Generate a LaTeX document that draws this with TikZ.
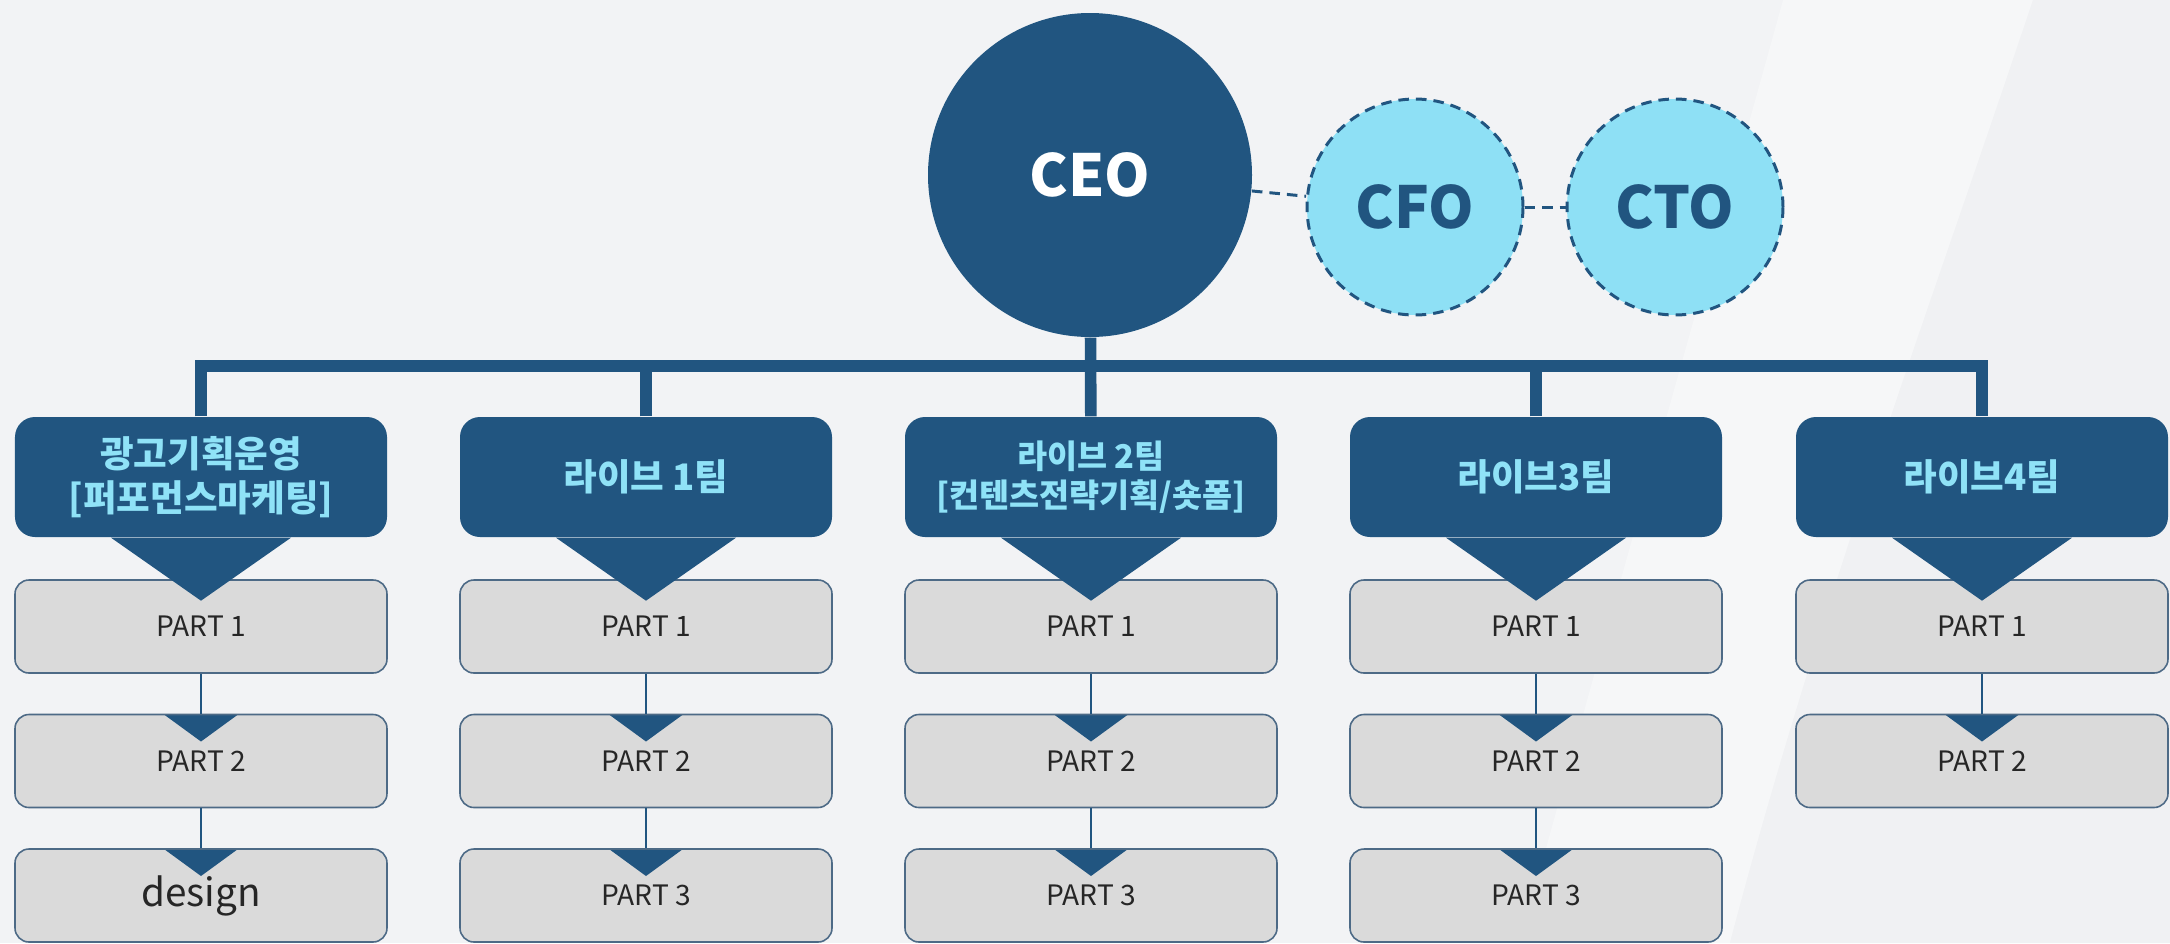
\documentclass[tikz,border=0pt]{standalone}
\usepackage{fontspec}
\setmainfont{Noto Sans CJK KR}
\usepackage{tikz}
\usetikzlibrary{
    calc,
    positioning
}
\definecolor{navy}{HTML}{215580}
\definecolor{sky}{HTML}{8EE0F5}
\definecolor{skytext}{HTML}{8FE2F7}
\definecolor{partgray}{HTML}{DADADA}
\definecolor{partline}{HTML}{4D6A86}
\definecolor{bgbase}{HTML}{F2F3F5}
\definecolor{bglight}{HTML}{F6F7F8}
\definecolor{bgdark}{HTML}{F0F1F3}
\tikzset{
    chief/.style={circle, fill=navy, text=white, minimum size=3.24cm, inner sep=0pt,
        font=\fontsize{16.5}{18}\selectfont\bfseries},
    officer/.style={circle, fill=sky, draw=navy, line width=0.85pt, dash pattern=on 3pt off 2pt,
        minimum size=2.16cm, inner sep=0pt, text=navy, font=\fontsize{16.5}{18}\selectfont\bfseries},
    team/.style={rectangle, rounded corners=2mm, fill=navy, text=skytext, minimum width=3.72cm,
        minimum height=1.2cm, align=center, font=\fontsize{10.4}{12.4}\selectfont\bfseries},
    part/.style={rectangle, rounded corners=1.4mm, fill=partgray, draw=partline, line width=0.45pt,
        minimum width=3.72cm, minimum height=0.93cm, text=black!85, font=\fontsize{8}{10}\selectfont},
    subpart/.style={part, path picture={%
        \fill[navy, sharp corners] ([xshift=-0.37cm]path picture bounding box.north)
            -- ([yshift=-0.27cm]path picture bounding box.north)
            -- ([xshift=0.37cm]path picture bounding box.north) -- cycle;}},
    bus/.style={draw=navy, line width=3.3pt},
    link/.style={draw=navy, line width=0.6pt},
    aide/.style={draw=navy, line width=0.85pt, dash pattern=on 3pt off 2pt}
}

\begin{document}
\begin{tikzpicture}
    \useasboundingbox (0,0) rectangle (21.7,-9.43);
    % background
    \fill[bgbase] (0,0) rectangle (21.7,-9.43);
    \fill[bglight] (17.83,0) .. controls (17.0,-3) and (16.0,-6.5) .. (15.2,-9.43)
        -- (17.3,-9.43) .. controls (18.2,-6) and (19.4,-2.8) .. (20.33,0) -- cycle;
    \fill[bgdark] (20.33,0) .. controls (19.4,-2.8) and (18.2,-6) .. (17.3,-9.43)
        -- (21.7,-9.43) -- (21.7,0) -- cycle;

    \draw (10.9,-1.75) node[chief](ceo){CEO};
    \draw (14.15,-2.07) node[officer](cfo){CFO};
    \draw (16.75,-2.07) node[officer](cto){CTO};

    \draw (2.01,-4.77) node[team](t1){광고기획운영\\{[}퍼포먼스마케팅]};
    \draw (6.46,-4.77) node[team](t2){라이브 1팀};
    \draw (10.91,-4.77) node[team, font=\fontsize{9.3}{11}\selectfont\bfseries](t3){라이브 2팀\\{[}컨텐츠전략기획/숏폼]};
    \draw (15.36,-4.77) node[team](t4){라이브3팀};
    \draw (19.82,-4.77) node[team](t5){라이브4팀};

    \draw (2.01,-6.265) node[part](p11){PART 1};
    \draw (2.01,-7.61) node[subpart](p12){PART 2};
    \draw (2.01,-8.955) node[subpart, font=\fontsize{11}{13}\selectfont](p13){design};
    \draw (6.46,-6.265) node[part](p21){PART 1};
    \draw (6.46,-7.61) node[subpart](p22){PART 2};
    \draw (6.46,-8.955) node[subpart](p23){PART 3};
    \draw (10.91,-6.265) node[part](p31){PART 1};
    \draw (10.91,-7.61) node[subpart](p32){PART 2};
    \draw (10.91,-8.955) node[subpart](p33){PART 3};
    \draw (15.36,-6.265) node[part](p41){PART 1};
    \draw (15.36,-7.61) node[subpart](p42){PART 2};
    \draw (15.36,-8.955) node[subpart](p43){PART 3};
    \draw (19.82,-6.265) node[part](p51){PART 1};
    \draw (19.82,-7.61) node[subpart](p52){PART 2};

    % pointers under the team boxes
    \fill[navy] ([xshift=-0.9cm]t1.south) -- ([yshift=-0.63cm]t1.south) -- ([xshift=0.9cm]t1.south) -- cycle;
    \fill[navy] ([xshift=-0.9cm]t2.south) -- ([yshift=-0.63cm]t2.south) -- ([xshift=0.9cm]t2.south) -- cycle;
    \fill[navy] ([xshift=-0.9cm]t3.south) -- ([yshift=-0.63cm]t3.south) -- ([xshift=0.9cm]t3.south) -- cycle;
    \fill[navy] ([xshift=-0.9cm]t4.south) -- ([yshift=-0.63cm]t4.south) -- ([xshift=0.9cm]t4.south) -- cycle;
    \fill[navy] ([xshift=-0.9cm]t5.south) -- ([yshift=-0.63cm]t5.south) -- ([xshift=0.9cm]t5.south) -- cycle;

    \coordinate (bar) at (0,-3.66);
    \draw[bus] (t1.north) -- (t1.north |- bar) -| (t5.north);
    \draw[bus] (t2.north) -- (t2.north |- bar);
    \draw[bus] (t4.north) -- (t4.north |- bar);
    \draw[bus] (ceo) -- (t3);

    \draw[aide] (ceo) -- (cfo);
    \draw[aide] (cfo) -- (cto);

    \draw[link] (p11) -- (p12);
    \draw[link] (p12) -- (p13);
    \draw[link] (p21) -- (p22);
    \draw[link] (p22) -- (p23);
    \draw[link] (p31) -- (p32);
    \draw[link] (p32) -- (p33);
    \draw[link] (p41) -- (p42);
    \draw[link] (p42) -- (p43);
    \draw[link] (p51) -- (p52);
\end{tikzpicture}
\end{document}
